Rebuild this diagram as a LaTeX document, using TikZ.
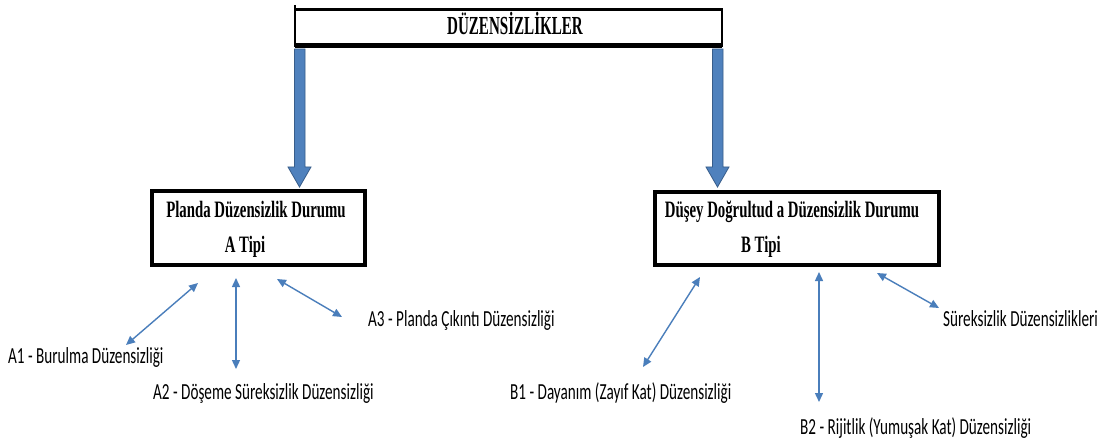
\documentclass[tikz,border=0pt]{standalone}
\usepackage{fontspec}
\usetikzlibrary{arrows.meta}
\newfontfamily\titlefont[FakeStretch=0.58]{Liberation Serif}
\newfontfamily\boxfont[FakeStretch=0.63]{Liberation Serif}
\newfontfamily\labfont[FakeStretch=0.66]{Carlito}
\definecolor{arrowblue}{HTML}{4F81BD}
\definecolor{arrowedge}{HTML}{385D8A}
\definecolor{thinblue}{HTML}{4A7EBB}
\tikzset{
  boxtext/.style={inner sep=0pt, anchor=base, font=\boxfont\bfseries\fontsize{23.5}{23.5}\selectfont},
  labtext/.style={inner sep=0pt, anchor=base west, font=\labfont\fontsize{23}{23}\selectfont},
  catbox/.style={draw=black, line width=4pt, fill=white},
  bigarrow/.style={fill=arrowblue, draw=arrowedge, line width=0.8pt},
  dblarrow/.style={draw=thinblue, line width=1.4pt,
    {Triangle[length=9pt,width=8pt]}-{Triangle[length=9pt,width=8pt]}}
}
\begin{document}
\begin{tikzpicture}[x=1pt,y=-1pt]
\useasboundingbox[fill=white] (0,0) rectangle (1109,441);

% top box
\draw[line width=2pt, fill=white] (295,5) -- (295,46) -- (722,46) -- (722,9.5) -- (295,9.5);
\draw[line width=3pt] (295,9.5) -- (722,9.5);
\draw[line width=5pt] (295,46) -- (722,46);
\node[inner sep=0pt, anchor=base, font=\titlefont\bfseries\fontsize{26}{26}\selectfont] (title) at (515,35) {DÜZENSİZLİKLER};

% big arrows
\draw[bigarrow] (294.5,49) -- (305,49) -- (305,167) -- (311,167) -- (299.5,187) -- (288,167) -- (294.5,167) -- cycle;
\draw[bigarrow] (712.5,49) -- (723,49) -- (723,167) -- (729,167) -- (717.5,187) -- (706,167) -- (712.5,167) -- cycle;

% category boxes
\node[catbox, minimum width=213pt, minimum height=74pt, inner sep=0pt] (boxA) at (258.5,228) {};
\node[catbox, minimum width=284pt, minimum height=73pt, inner sep=0pt] (boxB) at (797,228.5) {};

\node[boxtext] (a1) at (256,217) {Planda Düzensizlik Durumu};
\node[boxtext] (a2) at (245,252) {A Tipi};
\node[boxtext] (b1) at (792,217) {Düşey Doğrultud a Düzensizlik Durumu};
\node[boxtext] (b2) at (761,252) {B Tipi};

% labels
\node[labtext] (lA1) at (8,363) {A1 - Burulma Düzensizliği};
\node[labtext] (lA2) at (153,399) {A2 - Döşeme Süreksizlik Düzensizliği};
\node[labtext] (lA3) at (368,326) {A3 - Planda Çıkıntı Düzensizliği};
\node[labtext] (lB1) at (510,399) {B1 - Dayanım (Zayıf Kat) Düzensizliği};
\node[labtext] (lB2) at (800,434) {B2 - Rijitlik (Yumuşak Kat) Düzensizliği};
\node[labtext] (lB3) at (943,326) {Süreksizlik Düzensizlikleri};

% arrow end points
\coordinate (pA1s) at (198,283); \coordinate (pA1e) at (126,345);
\coordinate (pA2s) at (236,278); \coordinate (pA2e) at (236,369);
\coordinate (pA3s) at (277,279); \coordinate (pA3e) at (342,317);
\coordinate (pB1s) at (700,277); \coordinate (pB1e) at (643,367);
\coordinate (pB2s) at (819,272); \coordinate (pB2e) at (819,402);
\coordinate (pB3s) at (877,273); \coordinate (pB3e) at (939,308);

\draw[dblarrow] (pA1s) -- (pA1e);
\draw[dblarrow] (pA2s) -- (pA2e);
\draw[dblarrow] (pA3s) -- (pA3e);
\draw[dblarrow] (pB1s) -- (pB1e);
\draw[dblarrow] (pB2s) -- (pB2e);
\draw[dblarrow] (pB3s) -- (pB3e);
\end{tikzpicture}
\end{document}
